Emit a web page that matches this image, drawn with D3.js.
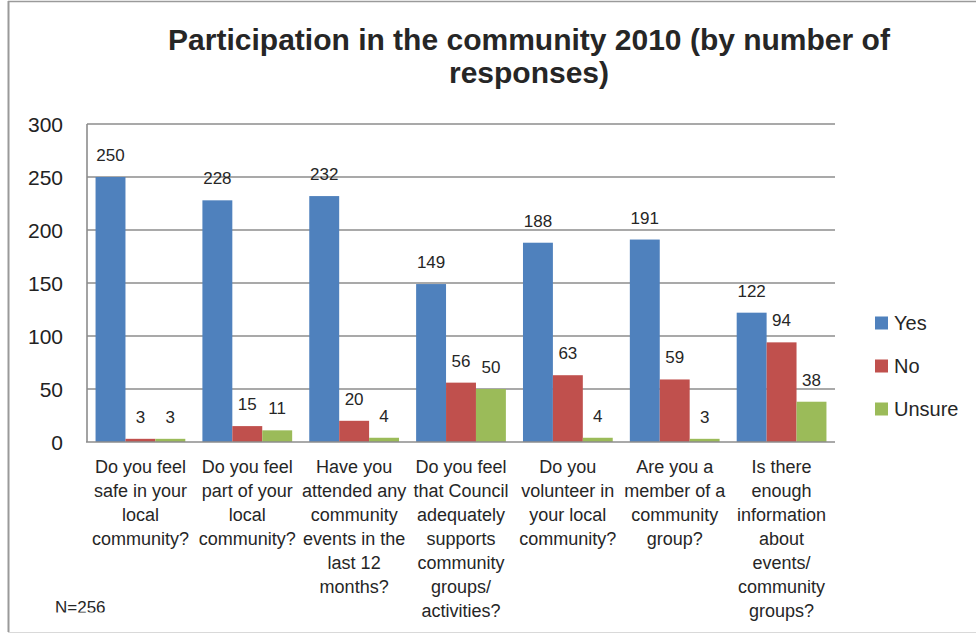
<!DOCTYPE html>
<html>
<head>
<meta charset="utf-8">
<script src="https://cdn.jsdelivr.net/npm/d3@7"></script>
<style>
  html, body { margin: 0; padding: 0; background: #fff; }
  svg { display: block; }
</style>
</head>
<body>
<svg id="chart" width="976" height="634"></svg>
<script>
// Survey questions (x categories), one label line per array entry
const categories = [
  ["Do you feel", "safe in your", "local", "community?"],
  ["Do you feel", "part of your", "local", "community?"],
  ["Have you", "attended any", "community", "events in the", "last 12", "months?"],
  ["Do you feel", "that Council", "adequately", "supports", "community", "groups/", "activities?"],
  ["Do you", "volunteer in", "your local", "community?"],
  ["Are you a", "member of a", "community", "group?"],
  ["Is there", "enough", "information", "about", "events/", "community", "groups?"]
];
const seriesNames = ["Yes", "No", "Unsure"];
const yesValues = [250, 228, 232, 149, 188, 191, 122];
const noValues = [3, 15, 20, 56, 63, 59, 94];
const unsureValues = [3, 11, 4, 50, 4, 3, 38];
const yTicks = [0, 50, 100, 150, 200, 250, 300];
const colors = ["#4F81BD", "#C0504D", "#9BBB59"];
const titleLines = ["Participation in the community 2010 (by number of", "responses)"];
const footnote = "N=256";

const seriesValues = [yesValues, noValues, unsureValues];
const rows = categories.map((c, i) => ({
  idx: i,
  values: seriesNames.map((s, k) => ({ series: s, k, value: seriesValues[k][i] }))
}));

const svg = d3.select("#chart");
const plotLeft = 87, plotRight = 835, plotTop = 124, plotBottom = 442;
const FONT = "'Liberation Sans', Arial, sans-serif";

// frame of the chart area
svg.append("line").attr("x1", 8.5).attr("x2", 8.5).attr("y1", 1).attr("y2", 632)
  .attr("stroke", "#9a9a9a").attr("stroke-width", 2);
svg.append("line").attr("x1", 8).attr("x2", 976).attr("y1", 1.5).attr("y2", 1.5)
  .attr("stroke", "#9a9a9a").attr("stroke-width", 1.5);
svg.append("line").attr("x1", 8).attr("x2", 976).attr("y1", 632.5).attr("y2", 632.5)
  .attr("stroke", "#d9d9d9").attr("stroke-width", 1);

const x0 = d3.scaleBand().domain(d3.range(categories.length))
  .range([plotLeft, plotRight]).paddingInner(0.16).paddingOuter(0.08);
const x1 = d3.scaleBand().domain(d3.range(seriesNames.length))
  .range([0, x0.bandwidth()]);
const y = d3.scaleLinear().domain([0, 300]).range([plotBottom, plotTop]);

// title
svg.append("g").selectAll("text").data(titleLines).join("text")
  .attr("x", 529).attr("y", (d, i) => 50 + i * 33)
  .attr("text-anchor", "middle")
  .attr("font-family", FONT)
  .attr("font-weight", "bold").attr("font-size", 30)
  .attr("fill", "#262626")
  .text(d => d);

// horizontal gridlines
svg.append("g").selectAll("line").data(yTicks.filter(t => t > 0)).join("line")
  .attr("x1", plotLeft).attr("x2", plotRight)
  .attr("y1", d => y(d)).attr("y2", d => y(d))
  .attr("stroke", "#8c8c8c").attr("stroke-width", 1.6);

// y axis labels
const yAxis = d3.axisLeft(y).tickValues(yTicks).tickSize(0).tickPadding(0);
const gy = svg.append("g").attr("transform", "translate(63,0)").call(yAxis);
gy.select(".domain").remove();
gy.selectAll("text")
  .attr("font-family", FONT)
  .attr("font-size", 21).attr("fill", "#222").attr("dy", "0.35em");

// bars
const groups = svg.append("g").selectAll("g").data(rows).join("g")
  .attr("transform", d => `translate(${x0(d.idx)},0)`);
groups.selectAll("rect").data(d => d.values).join("rect")
  .attr("x", d => x1(d.k)).attr("width", x1.bandwidth())
  .attr("y", d => y(d.value)).attr("height", d => y(0) - y(d.value))
  .attr("fill", d => colors[d.k]);

// value labels
groups.selectAll("text").data(d => d.values).join("text")
  .attr("x", d => x1(d.k) + x1.bandwidth() / 2)
  .attr("y", d => y(d.value) - 16)
  .attr("text-anchor", "middle")
  .attr("font-family", FONT)
  .attr("font-size", 17).attr("fill", "#262626")
  .text(d => d.value);

// axis lines
svg.append("line").attr("x1", plotLeft).attr("x2", plotLeft).attr("y1", plotTop).attr("y2", plotBottom)
  .attr("stroke", "#8c8c8c").attr("stroke-width", 1.6);
svg.append("line").attr("x1", plotLeft - 1).attr("x2", plotRight).attr("y1", plotBottom).attr("y2", plotBottom)
  .attr("stroke", "#8c8c8c").attr("stroke-width", 1.6);

// category labels
const catG = svg.append("g").selectAll("text").data(categories).join("text")
  .attr("x", (d, i) => x0(i) + x0.bandwidth() / 2)
  .attr("y", 473)
  .attr("text-anchor", "middle")
  .attr("font-family", FONT)
  .attr("font-size", 18).attr("fill", "#262626");
catG.selectAll("tspan").data(d => d).join("tspan")
  .attr("x", function () { return d3.select(this.parentNode).attr("x"); })
  .attr("dy", (d, i) => i === 0 ? 0 : 24)
  .text(d => d);

// legend
const legend = svg.append("g").selectAll("g").data(seriesNames).join("g")
  .attr("transform", (d, i) => `translate(875,${323 + i * 43})`);
legend.append("rect").attr("x", 0).attr("y", -6.5).attr("width", 13).attr("height", 13)
  .attr("fill", (d, i) => colors[i]);
legend.append("text").attr("x", 19).attr("y", 0).attr("dy", "0.35em")
  .attr("font-family", FONT)
  .attr("font-size", 20).attr("fill", "#262626")
  .text(d => d);

// sample size note, its lower edge hidden
svg.append("clipPath").attr("id", "noteClip")
  .append("rect").attr("x", 0).attr("y", 0).attr("width", 976).attr("height", 612.5);
svg.append("text").attr("x", 55).attr("y", 613)
  .attr("clip-path", "url(#noteClip)")
  .attr("font-family", FONT)
  .attr("font-size", 17).attr("fill", "#262626")
  .text(footnote);
</script>
</body>
</html>
